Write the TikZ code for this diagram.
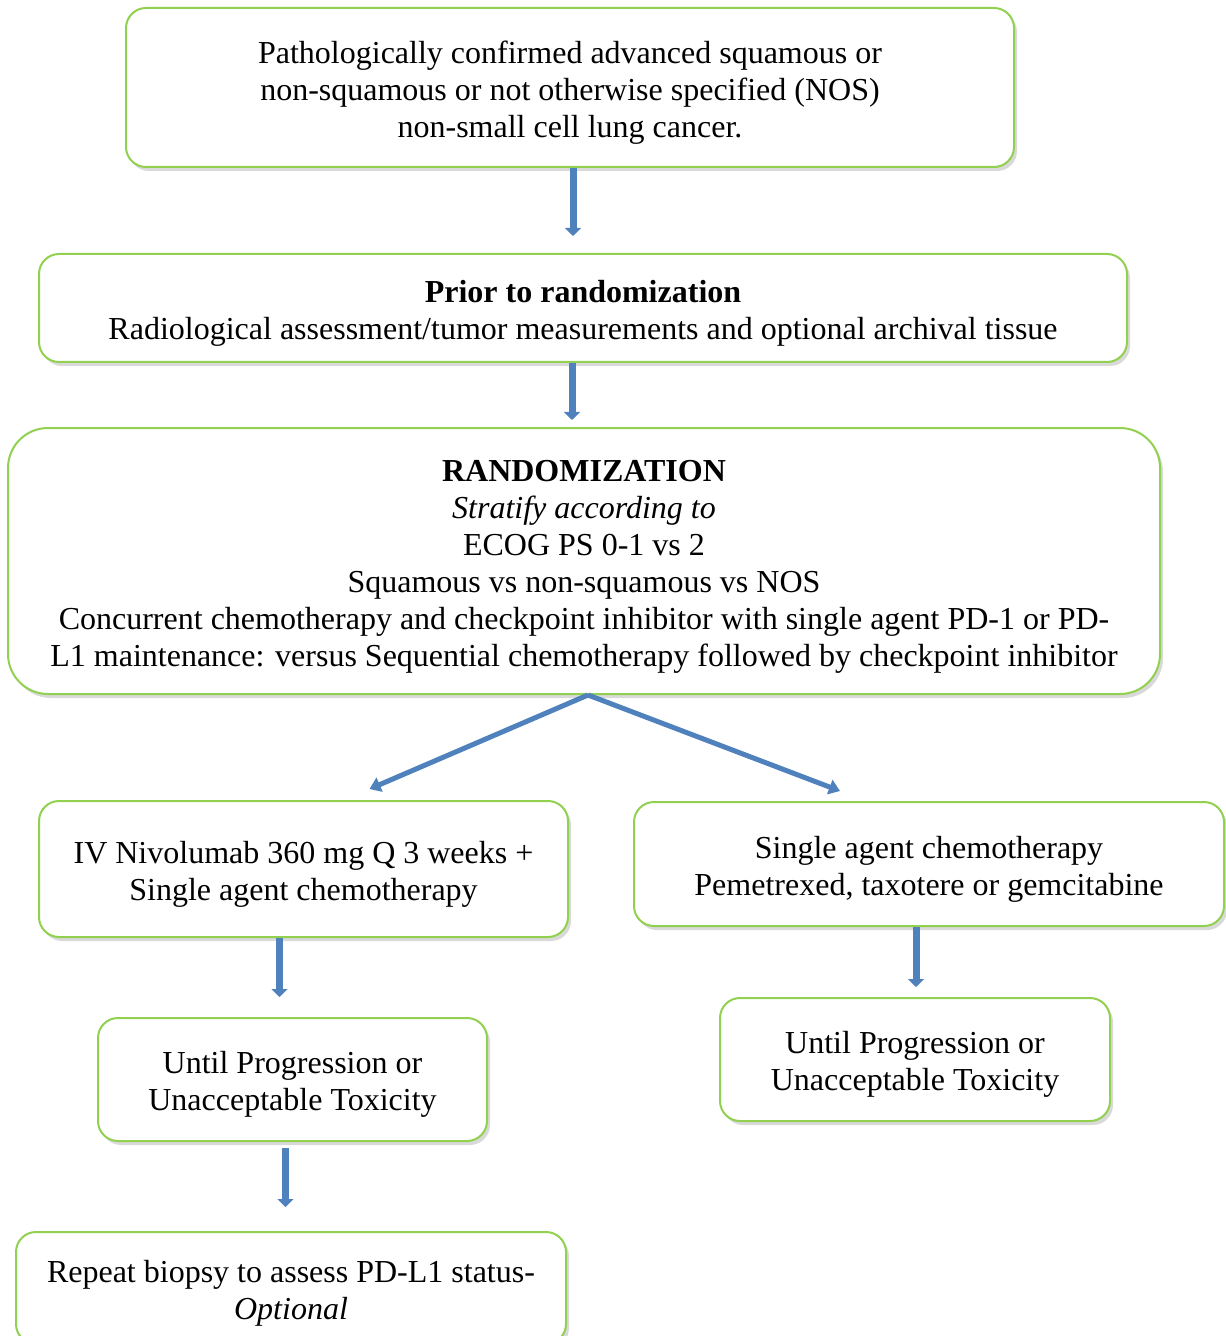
\documentclass[tikz,border=0pt]{standalone}
\usepackage{fontspec}
\setmainfont{Liberation Serif}
\usetikzlibrary{shadows,arrows.meta}
\definecolor{boxgreen}{HTML}{92D050}
\definecolor{arrowblue}{HTML}{4F81BD}
\newcommand{\boxstrut}{\rule{0pt}{16pt}}

\begin{document}
\begin{tikzpicture}[x=0.5pt,y=-0.5pt,
	box/.style={draw=boxgreen,line width=1pt,rounded corners=10pt,fill=white,align=center,inner sep=0pt,
		drop shadow={opacity=0.3,shadow xshift=1.5pt,shadow yshift=-2pt},font=\fontsize{16}{18.5}\selectfont},
	down/.style={draw=arrowblue,line width=3.5pt,-{Triangle[width=8pt,length=4pt]}},
	split/.style={draw=arrowblue,line width=2.5pt,-{Triangle[width=7.5pt,length=5.5pt]}}]
	\useasboundingbox (0,0) rectangle (1225,1336);
	\node[box,minimum width=444pt,minimum height=79.5pt] (nsclc) at (570,87.5) {\boxstrut Pathologically confirmed advanced squamous or\\non-squamous or not otherwise specified (NOS)\\non-small cell lung cancer.};
	\node[box,minimum width=544pt,minimum height=54pt] (prior) at (583,308) {\boxstrut\textbf{Prior to randomization}\\Radiological assessment/tumor measurements and optional archival tissue};
	\node[box,rounded corners=20pt,minimum width=576pt,minimum height=133pt] (rand) at (584,561) {\boxstrut\textbf{RANDOMIZATION}\\\textit{Stratify according to}\\ECOG PS 0-1 vs 2\\Squamous vs non-squamous vs NOS\\Concurrent chemotherapy and checkpoint inhibitor with single agent PD-1 or PD-\\L1 maintenance: versus Sequential chemotherapy followed by checkpoint inhibitor};
	\node[box,minimum width=264.5pt,minimum height=68pt] (nivo) at (303.5,869) {\boxstrut IV Nivolumab 360 mg Q 3 weeks +\\Single agent chemotherapy};
	\node[box,minimum width=295pt,minimum height=62pt] (chemo) at (929,864) {\boxstrut Single agent chemotherapy\\Pemetrexed, taxotere or gemcitabine};
	\node[box,minimum width=194.5pt,minimum height=61.5pt] (untilA) at (292.5,1079.5) {\boxstrut Until Progression or\\Unacceptable Toxicity};
	\node[box,minimum width=195pt,minimum height=61.5pt] (untilB) at (915,1059.5) {\boxstrut Until Progression or\\Unacceptable Toxicity};
	\node[box,minimum width=275pt,minimum height=56pt] (biopsy) at (291,1288) {\boxstrut Repeat biopsy to assess PD-L1 status-\\\textit{Optional}};

	\draw[down,shorten >=8.5pt] ([xshift=1.5pt]nsclc.south) -- ([xshift=1.5pt]nsclc.south |- prior.north);
	\draw[down,shorten >=3.5pt] ([xshift=-5.5pt]prior.south) -- ([xshift=-5.5pt]prior.south |- rand.north);
	\draw[split] ([xshift=2pt]rand.south) -- ([xshift=33pt,yshift=5.5pt]nivo.north);
	\draw[split] ([xshift=2pt]rand.south) -- ([xshift=-44.5pt,yshift=5pt]chemo.north);
	\draw[down,shorten >=10pt] ([xshift=-12pt]nivo.south) -- ([xshift=-12pt]nivo.south |- untilA.north);
	\draw[down,shorten >=5pt] ([xshift=-6.5pt]chemo.south) -- ([xshift=-6.5pt]chemo.south |- untilB.north);
	\draw[down,shorten <=3pt,shorten >=12pt] ([xshift=-3.5pt]untilA.south) -- ([xshift=-3.5pt]untilA.south |- biopsy.north);
\end{tikzpicture}
\end{document}
